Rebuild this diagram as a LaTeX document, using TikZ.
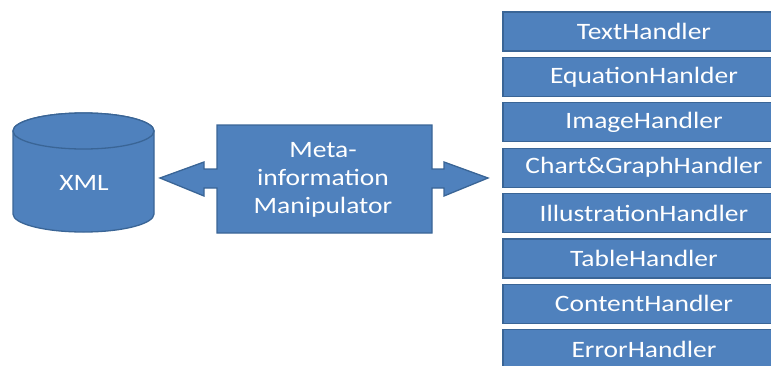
\documentclass[tikz,border=0pt]{standalone}
\usepackage{fontspec}
\setmainfont{Carlito}[FakeStretch=1.17]
\definecolor{boxfill}{HTML}{4F81BD}
\definecolor{boxline}{HTML}{3A6596}
\tikzset{
  shapestyle/.style={fill=boxfill, draw=boxline, line width=1.3pt, line join=miter},
  label/.style={text=white, font=\fontsize{23.5}{28}\selectfont, align=center, inner sep=0pt},
  handler/.style={shapestyle, minimum width=282pt, minimum height=39pt, inner sep=0pt,
                  text=white, font=\fontsize{23.5}{28}\selectfont}
}
\begin{document}
\begin{tikzpicture}[x=1pt,y=-1pt]
\useasboundingbox (0,0) rectangle (771,365);
\clip (0,0) rectangle (771,365);
% XML cylinder
\path[shapestyle] (13,131) -- (13,214) arc[start angle=180, end angle=360, x radius=70.5pt, y radius=18pt]
  -- (154,131) arc[start angle=0, end angle=180, x radius=70.5pt, y radius=18pt] -- cycle;
\path[shapestyle] (83.5,131) ellipse[x radius=70.5pt, y radius=18pt];
\node[label] (xml) at (84,183) {XML};
% Meta-information manipulator with double arrow
\path[shapestyle] (217,125) -- (432,125) -- (432,169) -- (444,169) -- (444,162) -- (488,178)
  -- (444,196) -- (444,188) -- (432,188) -- (432,233) -- (217,233) -- (217,188) -- (204,188)
  -- (204,196) -- (160,178) -- (204,162) -- (204,169) -- (217,169) -- cycle;
\node[label] (meta) at (323,180) {Meta-\\information\\Manipulator};
% Handlers
\foreach \name/\txt [count=\i from 0] in {h1/TextHandler, h2/EquationHanlder, h3/ImageHandler,
    h4/Chart\&GraphHandler, h5/IllustrationHandler, h6/TableHandler, h7/ContentHandler, h8/ErrorHandler}{
  \node[handler] (\name) at (644,{31.5+45.4*\i}) {\txt};
}
\end{tikzpicture}
\end{document}
